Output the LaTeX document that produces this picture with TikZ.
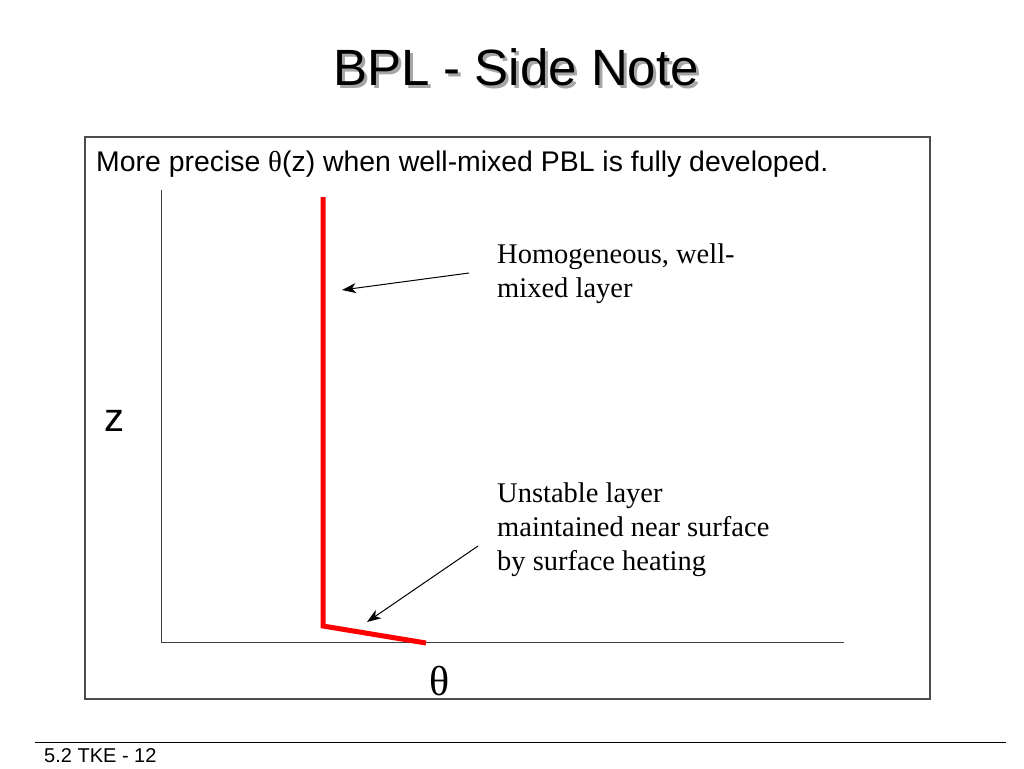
\documentclass[tikz,border=0pt]{standalone}
\usepackage{fontspec}
\setmainfont{Liberation Serif}
\setsansfont{Liberation Sans}
\newfontfamily\arialf{Liberation Sans}
\newfontfamily\timesf{Liberation Serif}
\usetikzlibrary{arrows.meta}
\begin{document}
\begin{tikzpicture}[x=1pt,y=-1pt,
  lbl/.style={anchor=base west,inner sep=0pt,font=\timesf\fontsize{28.5}{34}\selectfont,align=left},
  ptr/.style={draw=black,line width=1pt,-{Stealth[length=14pt,width=10pt,inset=4pt]}},
  prof/.style={draw=red,line width=5pt,line join=miter},
  axis/.style={draw=black!75,line width=1pt}]
\useasboundingbox (0,0) rectangle (1024,768);
% title
\node[anchor=base,inner sep=0pt,text=black!35,font=\arialf\fontsize{51}{56}\selectfont] (tshadow) at (519,88) {BPL - Side Note};
\node[anchor=base,inner sep=0pt,font=\arialf\fontsize{51}{56}\selectfont] (title) at (516,85) {BPL - Side Note};
% frame
\draw[draw=black!70,line width=1.2pt] (85,137) rectangle (930,699);
\node[anchor=base west,inner sep=0pt,font=\arialf\fontsize{28.4}{32}\selectfont] (sub) at (96,171) {More precise {\timesf\fontsize{29}{32}\selectfont θ}(z) when well-mixed PBL is fully developed.};
% axes
\coordinate (otop) at (161,190);
\coordinate (o) at (161,642);
\coordinate (xend) at (844,642);
\draw[axis] (otop) -- (o) -- (xend);
% profile
\coordinate (ptop) at (323,197);
\coordinate (pknee) at (323,626);
\coordinate (pend) at (426,643);
\draw[prof] (ptop) -- (pknee) -- (pend);
% labels
\node[lbl] (hom) at (497,297) {Homogeneous, well-\\mixed layer};
\node[lbl] (uns) at (497,570) {Unstable layer\\maintained near surface\\by surface heating};
\coordinate (a1s) at (469,273);
\coordinate (a1e) at (342,290);
\coordinate (a2s) at (478,546);
\coordinate (a2e) at (367,622);
\draw[ptr] (a1s) -- (a1e);
\draw[ptr] (a2s) -- (a2e);
\node[anchor=base west,inner sep=0pt,font=\arialf\fontsize{40}{44}\selectfont] (zl) at (104,431) {z};
\node[anchor=base,inner sep=0pt,font=\timesf\fontsize{42}{46}\selectfont] (thl) at (440,695) {θ};
% footer
\draw[draw=black,line width=1pt] (35,742) -- (1006,742);
\node[anchor=base west,inner sep=0pt,font=\arialf\fontsize{20}{22}\selectfont] (foot) at (44,762) {5.2 TKE - 12};
\end{tikzpicture}
\end{document}
